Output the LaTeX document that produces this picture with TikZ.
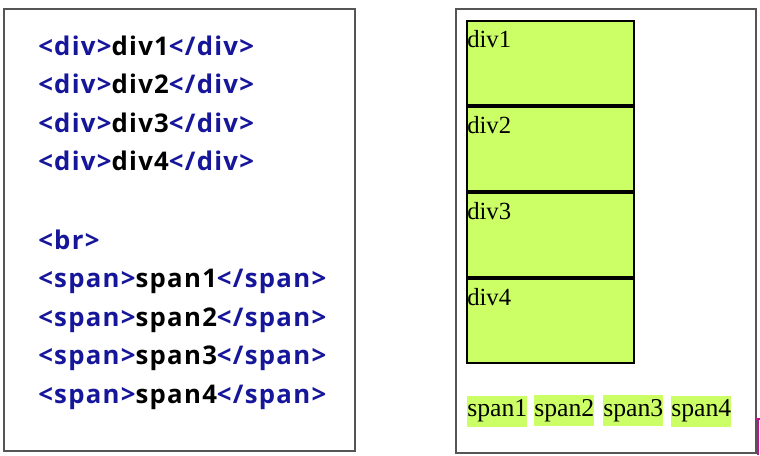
\documentclass[tikz,border=0pt]{standalone}
\usepackage{fontspec}
\setmainfont{Liberation Serif}
\newfontfamily\codefont{Open Sans}[LetterSpace=5]
\definecolor{tagblue}{RGB}{22,22,155}
\definecolor{lime}{RGB}{204,255,102}
\definecolor{framegray}{RGB}{85,85,85}
\definecolor{mag}{RGB}{190,20,140}
\begin{document}
\begin{tikzpicture}[x=0.75pt,y=-0.75pt,
  frame/.style={draw=framegray,line width=1.5pt},
  codeline/.style={anchor=base west,inner sep=0pt,font=\codefont\bfseries\fontsize{19.3}{19.3}\selectfont},
  divbox/.style={draw=black,line width=1.5pt,fill=lime},
  divlabel/.style={anchor=base west,inner sep=0pt,font=\fontsize{18.5}{18.5}\selectfont},
  spanbox/.style={fill=lime,inner sep=0pt,anchor=base west,font=\fontsize{19.3}{19.3}\selectfont,minimum height=31*0.75pt,text depth=7*0.75pt}
]
\useasboundingbox (0,0) rectangle (760,455);
\fill[white] (0,0) rectangle (760,455);
% frames
\draw[frame] (4,9) rectangle (355,451);
\draw[frame] (456,9) rectangle (756,453);
% code lines
\newcommand{\tb}[1]{\textcolor{tagblue}{#1}}
\node[codeline] (c1) at (38,55) {\tb{<div>}div1\tb{</div>}};
\node[codeline] (c2) at (38,93.5) {\tb{<div>}div2\tb{</div>}};
\node[codeline] (c3) at (38,132) {\tb{<div>}div3\tb{</div>}};
\node[codeline] (c4) at (38,170.5) {\tb{<div>}div4\tb{</div>}};
\node[codeline] (c5) at (38,249) {\tb{<br>}};
\node[codeline] (c6) at (38,287.5) {\tb{<span>}span1\tb{</span>}};
\node[codeline] (c7) at (38,326) {\tb{<span>}span2\tb{</span>}};
\node[codeline] (c8) at (38,364.5) {\tb{<span>}span3\tb{</span>}};
\node[codeline] (c9) at (38,403) {\tb{<span>}span4\tb{</span>}};
% div boxes
\foreach \i in {0,1,2,3}{
  \draw[divbox] (467,{21+86*\i}) rectangle (634,{105+86*\i});
}
\node[divlabel] (d1) at (467,47) {div1};
\node[divlabel] (d2) at (467,133) {div2};
\node[divlabel] (d3) at (467,219) {div3};
\node[divlabel] (d4) at (467,305) {div4};
% spans
\node[spanbox] (s1) at (467,416) {span1};
\node[spanbox] (s2) at (534,416) {span2};
\node[spanbox] (s3) at (603,416) {span3};
\node[spanbox] (s4) at (671,416) {span4};
% magenta fragment
\draw[mag,line width=1.5pt] (755,419) -- (760,419);
\draw[mag,line width=1.5pt] (758,419) -- (758,455);
\end{tikzpicture}
\end{document}
